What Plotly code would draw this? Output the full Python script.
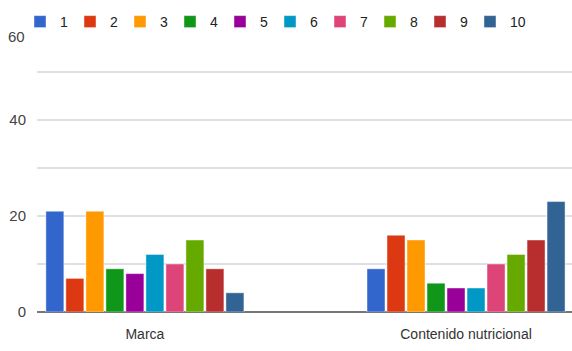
import plotly.graph_objects as go

# Survey responses per rating level (1-10) for each aspect
categories = ["Marca", "Contenido nutricional"]
levels = ["1", "2", "3", "4", "5", "6", "7", "8", "9", "10"]
marca = [21, 7, 21, 9, 8, 12, 10, 15, 9, 4]
contenido = [9, 16, 15, 6, 5, 5, 10, 12, 15, 23]
colors = ["#3366cc", "#dc3912", "#ff9900", "#109618", "#990099",
          "#0099c6", "#dd4477", "#66aa00", "#b82e2e", "#316395"]

FONT = "Liberation Sans, Arial, sans-serif"
W, H = 572, 351
LEG_X0, LEG_STEP, LEG_Y = 20, 50, 1 - 6 / H

fig = go.Figure()
for i, lvl in enumerate(levels):
    # the last entry gets its own legend box so its two-digit label is not clipped
    fig.add_trace(go.Bar(
        name=lvl,
        x=categories,
        y=[marca[i], contenido[i]],
        marker=dict(color=colors[i], line=dict(color="rgba(255,255,255,0.45)", width=1)),
        legend="legend2" if i == len(levels) - 1 else "legend",
        hoverinfo="x+y+name",
    ))

legend_common = dict(
    orientation="h",
    xref="container", yref="container",
    xanchor="left", yanchor="top",
    bgcolor="rgba(255,255,255,0)",
    font=dict(family=FONT, size=14, color="#222222"),
    traceorder="normal",
)

fig.update_layout(
    width=W, height=H,
    margin=dict(l=37, r=0, t=24, b=39, autoexpand=False),
    paper_bgcolor="white", plot_bgcolor="white",
    barmode="group", bargap=0.377, bargroupgap=0.1,
    font=dict(family=FONT, size=14, color="#444444"),
    showlegend=True,
    legend=dict(legend_common, x=LEG_X0 / W, y=LEG_Y,
                entrywidth=5, entrywidthmode="pixels"),
    legend2=dict(legend_common, x=(LEG_X0 + LEG_STEP * (len(levels) - 1)) / W, y=LEG_Y),
    xaxis=dict(
        type="category",
        range=[-0.336, 1.33],
        showgrid=False, showline=False, ticks="",
        ticklabelstandoff=12,
        tickfont=dict(family=FONT, size=14, color="#333333"),
    ),
    yaxis=dict(
        range=[0, 60],
        tickvals=[0, 20, 40],
        showgrid=True, gridcolor="#e0e0e0", gridwidth=1.5,
        minor=dict(dtick=10, showgrid=True, gridcolor="#e0e0e0", gridwidth=1.5),
        zeroline=True, zerolinecolor="#777777", zerolinewidth=2,
        showline=False, ticks="",
        ticklabelstandoff=10,
        tickfont=dict(family=FONT, size=15, color="#444444"),
    ),
)

# Top axis label sits a little below its gridline so it clears the legend
fig.add_annotation(
    xref="paper", yref="y", x=0, y=60, text="60",
    showarrow=False, xanchor="right", yanchor="middle",
    xshift=-10, yshift=-12,
    font=dict(family=FONT, size=15, color="#444444"),
)

fig.write_html("out.html")
